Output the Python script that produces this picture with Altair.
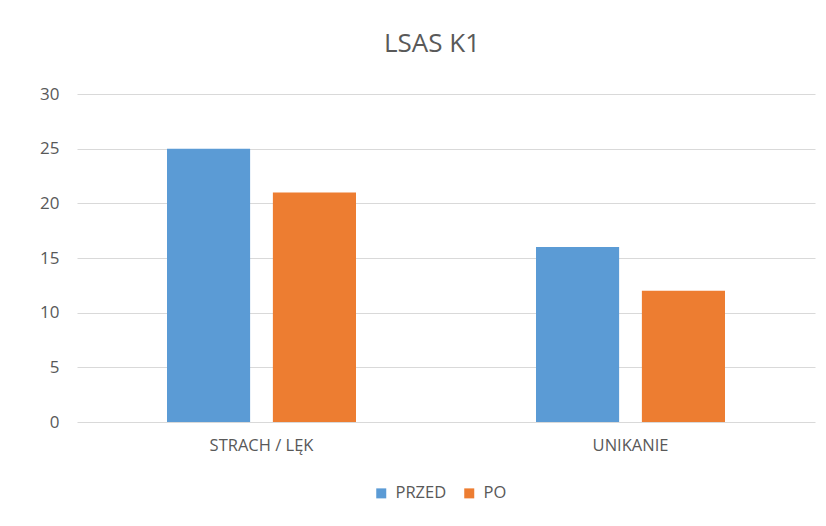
import altair as alt
import pandas as pd

categories = ["STRACH / LĘK", "UNIKANIE"]
series = ["PRZED", "PO"]
przed = [25, 16]
po = [21, 12]
colors = ["#5b9bd5", "#ed7d31"]

rows = []
for i, c in enumerate(categories):
    rows.append({"kategoria": c, "seria": "PRZED", "wartosc": przed[i]})
    rows.append({"kategoria": c, "seria": "PO", "wartosc": po[i]})
df = pd.DataFrame(rows)

FONT = "Open Sans"
GRAY = "#595959"

chart = (
    alt.Chart(df)
    .mark_bar()
    .encode(
        x=alt.X(
            "kategoria:N",
            sort=categories,
            title=None,
            scale=alt.Scale(paddingInner=0, paddingOuter=0),
            axis=alt.Axis(
                labelAngle=0,
                ticks=False,
                domain=False,
                labelFontSize=16.5,
                labelColor=GRAY,
                labelFont=FONT,
                labelPadding=15,
            ),
        ),
        xOffset=alt.XOffset(
            "seria:N",
            sort=series,
            scale=alt.Scale(paddingInner=0.215, paddingOuter=0.85),
        ),
        y=alt.Y(
            "wartosc:Q",
            title=None,
            scale=alt.Scale(domain=[0, 30]),
            axis=alt.Axis(
                values=[0, 5, 10, 15, 20, 25, 30],
                ticks=False,
                domain=False,
                grid=True,
                gridColor="#d9d9d9",
                gridWidth=1,
                labelFontSize=17,
                labelColor=GRAY,
                labelFont=FONT,
                labelPadding=18,
            ),
        ),
        color=alt.Color(
            "seria:N",
            sort=series,
            scale=alt.Scale(domain=series, range=colors),
            legend=alt.Legend(
                title=None,
                orient="none",
                direction="horizontal",
                legendX=296,
                legendY=391,
                symbolType="square",
                symbolSize=100,
                symbolStrokeWidth=0,
                labelFontSize=16.5,
                labelColor=GRAY,
                labelFont=FONT,
                labelOffset=6,
                columnPadding=14,
            ),
        ),
    )
    .properties(
        width=738,
        height=328,
        title=alt.TitleParams(
            "LSAS K1",
            fontSize=26,
            font=FONT,
            fontWeight="normal",
            color=GRAY,
            anchor="middle",
            offset=28,
            dx=-14,
        ),
        autosize=alt.AutoSizeParams(type="none"),
        padding={"left": 69, "top": 86, "right": 3, "bottom": 90},
        background="white",
    )
    .configure_view(stroke=None)
)

chart.save("out.html", embed_options={"renderer": "svg", "actions": False})
